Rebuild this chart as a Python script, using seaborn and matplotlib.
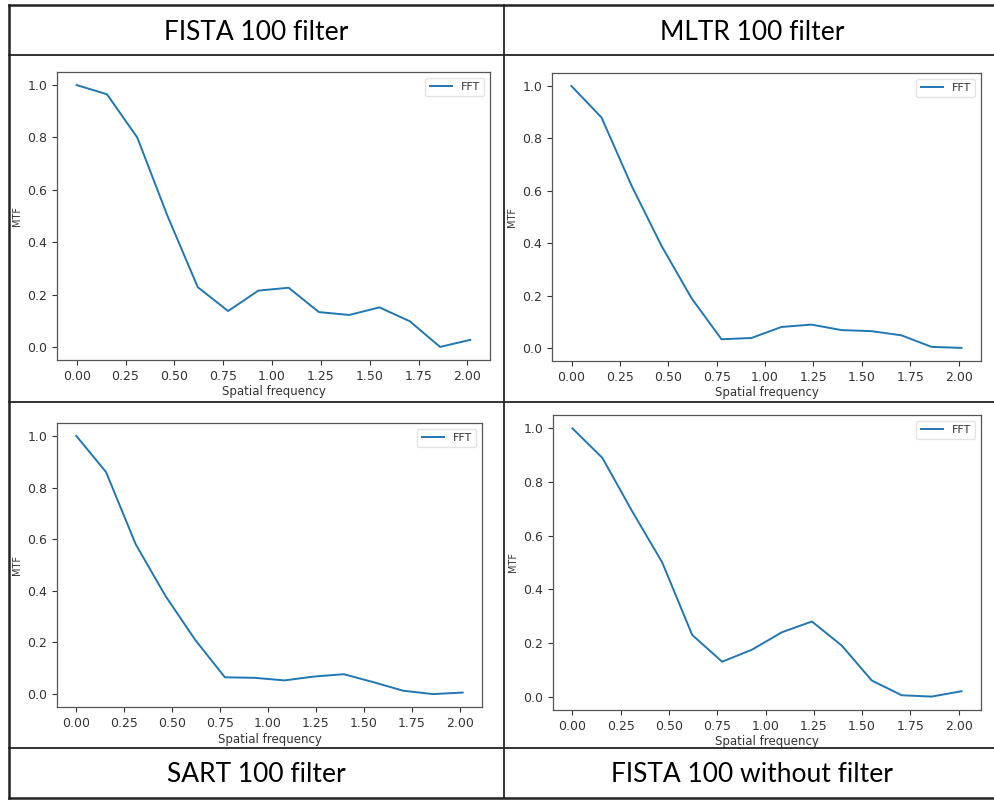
import matplotlib
matplotlib.use("Agg")
import matplotlib.pyplot as plt
from matplotlib.lines import Line2D
import numpy as np
import pandas as pd
import seaborn as sns

# Spatial frequency samples shared by every panel
freq = [0.0, 0.155, 0.31, 0.465, 0.62, 0.775, 0.93, 1.085, 1.24, 1.395, 1.55, 1.705, 1.86, 2.015]

# MTF curves (FFT based) for each reconstruction
mtf_fista_filter = [1.0, 0.965, 0.80, 0.50, 0.228, 0.137, 0.215, 0.226, 0.133, 0.122, 0.151, 0.098, 0.0, 0.027]
mtf_mltr_filter = [1.0, 0.88, 0.62, 0.39, 0.19, 0.033, 0.038, 0.08, 0.089, 0.068, 0.064, 0.048, 0.004, 0.0]
mtf_sart_filter = [1.0, 0.86, 0.58, 0.38, 0.21, 0.065, 0.063, 0.053, 0.068, 0.077, 0.046, 0.013, 0.0, 0.006]
mtf_fista_nofilter = [1.0, 0.89, 0.69, 0.50, 0.23, 0.13, 0.175, 0.24, 0.28, 0.19, 0.06, 0.005, 0.0, 0.02]

titles_top = ["FISTA 100 filter", "MLTR 100 filter"]
titles_bottom = ["SART 100 filter", "FISTA 100 without filter"]

W, H = 994, 800
fig = plt.figure(figsize=(W / 100, H / 100), dpi=100)
fig.patch.set_facecolor("white")


def px_axes(left, top, right, bottom):
    return fig.add_axes([left / W, 1 - bottom / H, (right - left) / W, (bottom - top) / H])


panels = [
    ((57, 72, 490, 360), mtf_fista_filter),
    ((552, 73, 981, 361), mtf_mltr_filter),
    ((57, 423, 482, 707), mtf_sart_filter),
    ((553, 415, 981, 710), mtf_fista_nofilter),
]

for box, values in panels:
    ax = px_axes(*box)
    df = pd.DataFrame({"Spatial frequency": freq, "MTF": values})
    sns.lineplot(data=df, x="Spatial frequency", y="MTF", ax=ax,
                 color="#1f77b4", linewidth=1.4, label="FFT")
    ax.set_xticks([0.0, 0.25, 0.5, 0.75, 1.0, 1.25, 1.5, 1.75, 2.0])
    ax.set_xticklabels([f"{t:.2f}" for t in ax.get_xticks()])
    ax.set_yticks([0.0, 0.2, 0.4, 0.6, 0.8, 1.0])
    ax.set_yticklabels([f"{t:.1f}" for t in ax.get_yticks()])
    ax.tick_params(labelsize=9, colors="#333333", length=3.5, width=0.8)
    ax.set_xlabel("Spatial frequency", fontsize=8.5, color="#333333", labelpad=2)
    ax.set_ylabel("MTF", fontsize=7, color="#333333", labelpad=4)
    for s in ax.spines.values():
        s.set_color("#555555")
        s.set_linewidth(0.9)
    leg = ax.legend(loc="upper right", fontsize=8, frameon=True)
    leg.get_frame().set_edgecolor("#dddddd")
    for t in leg.get_texts():
        t.set_color("#333333")


# Table grid around the panels
def hline(y, x0, x1, lw):
    fig.add_artist(Line2D([x0 / W, x1 / W], [1 - y / H, 1 - y / H], color="#222222", linewidth=lw))


def vline(x, y0, y1, lw):
    fig.add_artist(Line2D([x / W, x / W], [1 - y0 / H, 1 - y1 / H], color="#222222", linewidth=lw))


hline(5, 9, W, 1.8)
hline(55, 9, W, 1.3)
hline(402, 9, W, 1.3)
hline(748, 9, W, 1.3)
hline(798, 9, W, 1.8)
vline(9, 5, 798, 1.8)
vline(504, 5, 798, 1.3)

title_font = dict(fontsize=19, family="Lato", color="black", ha="center", va="center")
for cx, txt in zip([256, 752], titles_top):
    fig.text(cx / W, 1 - 33 / H, txt, **title_font)
for cx, txt in zip([256, 752], titles_bottom):
    fig.text(cx / W, 1 - 775 / H, txt, **title_font)

fig.savefig("out.png", dpi=100, facecolor="white")
